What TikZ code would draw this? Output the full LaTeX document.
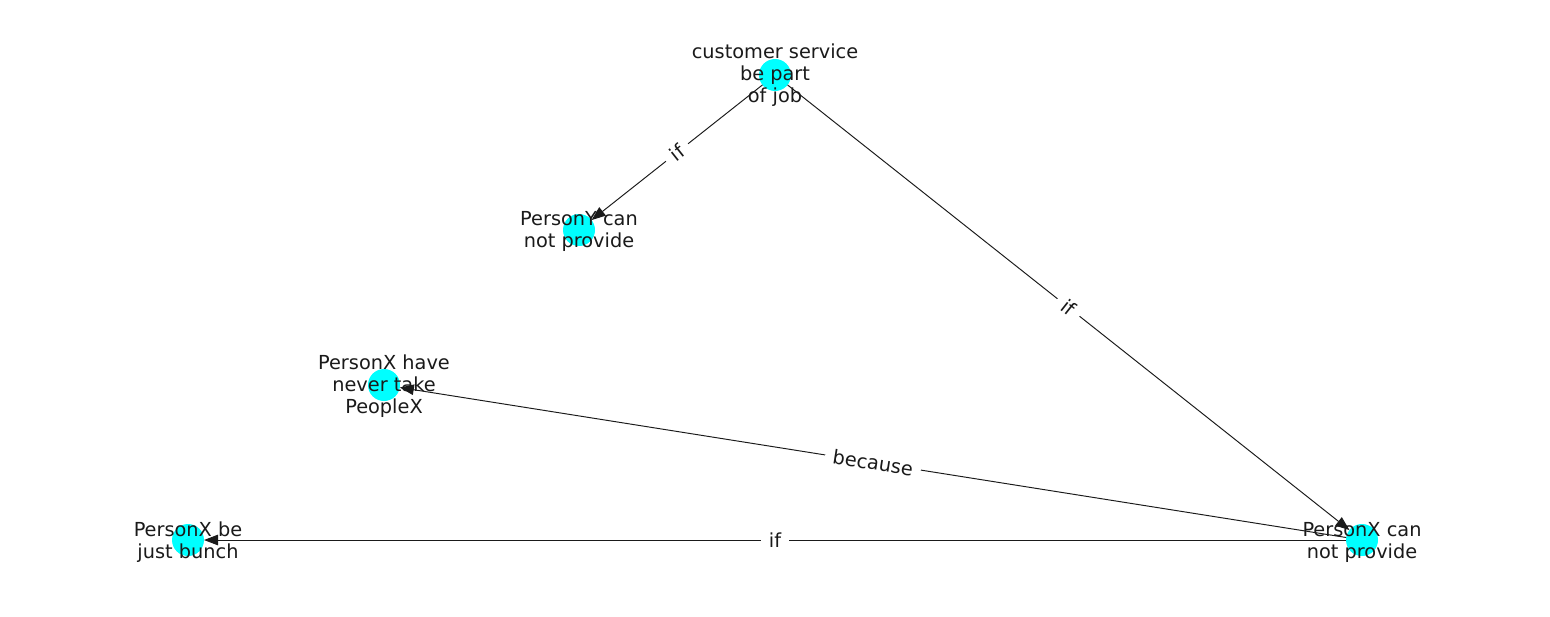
\documentclass[tikz,border=0pt]{standalone}
\usepackage{fontspec}
\setmainfont{DejaVu Sans}
\usetikzlibrary{arrows.meta}
\definecolor{nodecyan}{HTML}{00FFFF}
\definecolor{inkc}{HTML}{1A1A1A}
\begin{document}
\begin{tikzpicture}[x=0.02cm,y=-0.02cm,
  dot/.style={circle,fill=nodecyan,minimum size=0.64cm,inner sep=0pt,outer sep=0pt},
  txt/.style={align=center,text=inkc,font=\fontsize{11pt}{12.5pt}\selectfont,inner sep=0pt},
  edge/.style={draw=inkc,line width=0.55pt,-{Triangle[length=8pt,width=6pt]}},
  elab/.style={sloped,fill=white,text=inkc,font=\fontsize{11pt}{12.5pt}\selectfont,inner xsep=4.5pt,inner ysep=2pt,midway}]
\useasboundingbox (0,0) rectangle (1550,616);
\node[dot] (c) at (775,75) {};
\node[dot] (py) at (579,230) {};
\node[dot] (ph) at (384,385) {};
\node[dot] (pb) at (188,540) {};
\node[dot] (pc) at (1362,540) {};
\draw[edge] (c) -- (py);
\draw[edge] (c) -- (pc);
\draw[edge] (pc) -- (ph);
\draw[edge] (pc) -- (pb);
\path (c.center) -- node[elab] {if} (py.center);
\path (c.center) -- node[elab] {if} (pc.center);
\path (pc.center) -- node[elab] {because} (ph.center);
\path (pc.center) -- node[elab] {if} (pb.center);
\node[txt] (tc) at (775,75) {customer service\\be part\\of job};
\node[txt] (tpy) at (579,231) {PersonY can\\not provide};
\node[txt] (tph) at (384,386) {PersonX have\\never take\\PeopleX};
\node[txt] (tpb) at (188,542) {PersonX be\\just bunch};
\node[txt] (tpc) at (1362,542) {PersonX can\\not provide};
\end{tikzpicture}
\end{document}
